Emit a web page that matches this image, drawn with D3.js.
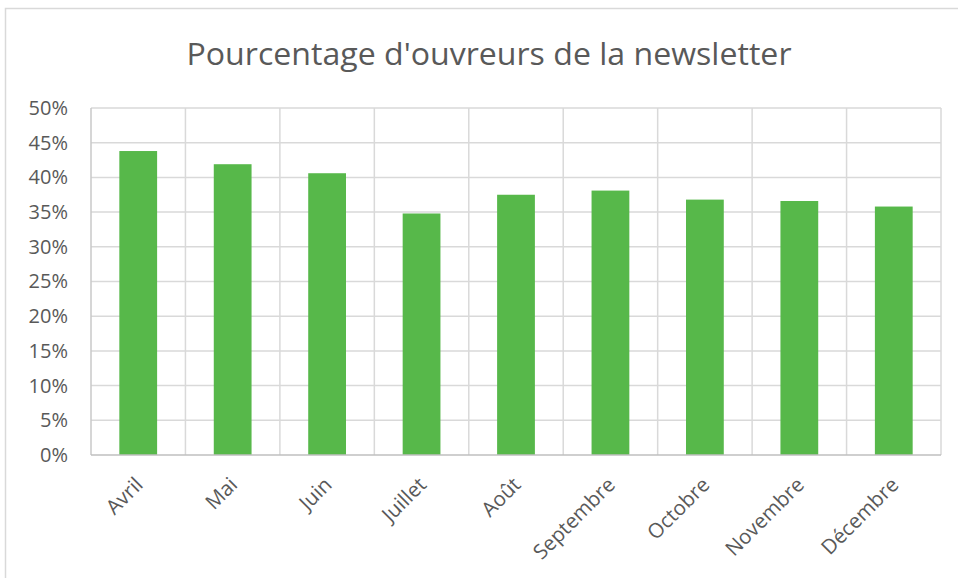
<!DOCTYPE html>
<html>
<head>
<meta charset="utf-8">
<script src="https://cdn.jsdelivr.net/npm/d3@7"></script>
<style>
  html, body { margin: 0; padding: 0; background: #fff; }
  svg { display: block; }
  text { font-family: "Open Sans", "Noto Sans", sans-serif; fill: #595959; }
</style>
</head>
<body>
<svg id="chart" width="958" height="578"></svg>
<script>
const title = "Pourcentage d'ouvreurs de la newsletter";
const categories = ["Avril", "Mai", "Juin", "Juillet", "Août", "Septembre", "Octobre", "Novembre", "Décembre"];
const values = [0.438, 0.419, 0.406, 0.348, 0.375, 0.381, 0.368, 0.366, 0.358];
const yTicks = [0, 0.05, 0.10, 0.15, 0.20, 0.25, 0.30, 0.35, 0.40, 0.45, 0.50];

const svg = d3.select("#chart");
const plot = { left: 91, right: 941, top: 108, bottom: 455 };

// chart border (only left and top visible in the crop)
svg.append("rect")
  .attr("x", 5.5).attr("y", 8.5)
  .attr("width", 1200).attr("height", 1200)
  .attr("fill", "#fff").attr("stroke", "#d9d9d9").attr("stroke-width", 1.5);

svg.append("text")
  .attr("x", 489).attr("y", 64.5)
  .attr("text-anchor", "middle")
  .attr("font-size", 31)
  .attr("textLength", 605)
  .attr("lengthAdjust", "spacingAndGlyphs")
  .text(title);

const x = d3.scaleBand().domain(categories).range([plot.left, plot.right]).padding(0);
const y = d3.scaleLinear().domain([0, 0.5]).range([plot.bottom, plot.top]);

// horizontal gridlines
svg.append("g").selectAll("line").data(yTicks.slice(1)).join("line")
  .attr("x1", plot.left).attr("x2", plot.right)
  .attr("y1", d => y(d)).attr("y2", d => y(d))
  .attr("stroke", "#d9d9d9").attr("stroke-width", 1.5);

// vertical gridlines at category boundaries
const bounds = categories.map(c => x(c)).concat([x(categories[categories.length - 1]) + x.bandwidth()]);
svg.append("g").selectAll("line").data(bounds).join("line")
  .attr("x1", d => d).attr("x2", d => d)
  .attr("y1", plot.top).attr("y2", plot.bottom)
  .attr("stroke", (d, i) => i === 0 ? "#c8c8c8" : "#d9d9d9").attr("stroke-width", 1.5);

// bars
const barW = x.bandwidth() * 0.4;
svg.append("g").selectAll("rect").data(values).join("rect")
  .attr("x", (d, i) => x(categories[i]) + (x.bandwidth() - barW) / 2)
  .attr("width", barW)
  .attr("y", d => y(d))
  .attr("height", d => y(0) - y(d))
  .attr("fill", "#57b84a");

// category axis line
svg.append("line")
  .attr("x1", plot.left).attr("x2", plot.right)
  .attr("y1", plot.bottom).attr("y2", plot.bottom)
  .attr("stroke", "#bfbfbf").attr("stroke-width", 1.5);

// y axis labels
const yAxis = d3.axisLeft(y).tickValues(yTicks).tickFormat(d3.format(".0%")).tickSize(0).tickPadding(0);
const yg = svg.append("g").attr("transform", `translate(${68},0)`).call(yAxis);
yg.select(".domain").remove();
yg.selectAll("text").attr("font-size", 20).attr("fill", "#595959")
  .style("font-family", '"Open Sans", "Noto Sans", sans-serif');

// x axis labels
const xAxis = d3.axisBottom(x).tickSize(0).tickPadding(0);
const xg = svg.append("g").attr("transform", `translate(0,${plot.bottom})`).call(xAxis);
xg.select(".domain").remove();
xg.selectAll("text")
  .attr("font-size", 20.5).attr("fill", "#595959")
  .style("font-family", '"Open Sans", "Noto Sans", sans-serif')
  .attr("text-anchor", "end")
  .attr("dy", "0")
  .attr("transform", "translate(6,31) rotate(-45)");
</script>
</body>
</html>
